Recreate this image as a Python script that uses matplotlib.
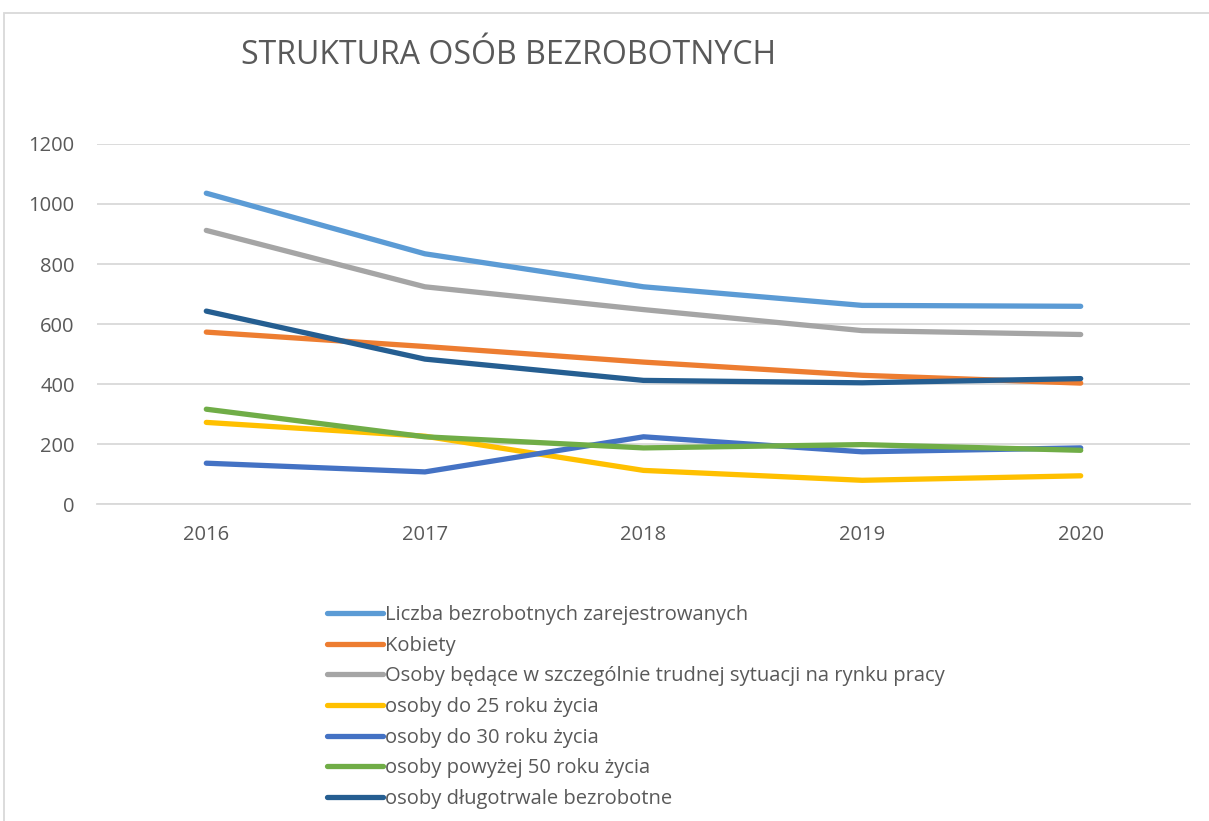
import matplotlib
matplotlib.use("Agg")
import matplotlib.pyplot as plt
from matplotlib.patches import Rectangle

# data
years = ["2016", "2017", "2018", "2019", "2020"]
liczba = [1036, 834, 724, 662, 659]
kobiety = [573, 525, 473, 429, 403]
trudna = [912, 724, 648, 578, 565]
do25 = [272, 226, 112, 79, 94]
do30 = [136, 107, 224, 174, 187]
pow50 = [316, 224, 187, 198, 179]
dlugo = [643, 483, 412, 404, 418]

labels = [
    "Liczba bezrobotnych zarejestrowanych",
    "Kobiety",
    "Osoby będące w szczególnie trudnej sytuacji na rynku pracy",
    "osoby do 25 roku życia",
    "osoby do 30 roku życia",
    "osoby powyżej 50 roku życia",
    "osoby długotrwale bezrobotne",
]
colors = ["#5B9BD5", "#ED7D31", "#A5A5A5", "#FFC000", "#4472C4", "#70AD47", "#255E91"]
series = [liczba, kobiety, trudna, do25, do30, pow50, dlugo]

plt.rcParams["font.family"] = ["Open Sans", "DejaVu Sans"]

fig = plt.figure(figsize=(12.09, 8.21), dpi=100)
ax = fig.add_axes([97 / 1209, 1 - 504 / 821, (1190 - 97) / 1209, 360 / 821])

x = range(len(years))
for vals, lab, col in zip(series, labels, colors):
    ax.plot(x, vals, color=col, lw=3.8, solid_capstyle="round",
            solid_joinstyle="round", label=lab)

ax.set_xlim(-0.5, len(years) - 0.5)
ax.set_ylim(0, 1200)
ax.set_yticks(range(0, 1201, 200))
ax.set_xticks(list(x))
ax.set_xticklabels(years)
ax.grid(axis="y", color="#D9D9D9", lw=1.3)
ax.set_axisbelow(True)
for s in ["top", "right", "left"]:
    ax.spines[s].set_visible(False)
ax.spines["bottom"].set_color("#D9D9D9")
ax.spines["bottom"].set_linewidth(1.3)
ax.tick_params(length=0, labelsize=14.5, colors="#595959")
ax.tick_params(axis="y", pad=16)
ax.tick_params(axis="x", pad=15)

fig.text(509 / 1209, 1 - 55 / 821, "STRUKTURA OSÓB BEZROBOTNYCH", ha="center",
         va="center", fontsize=23, color="#595959")

fig.legend(loc="upper left", bbox_to_anchor=(317 / 1209, 1 - 595 / 821),
           frameon=False, fontsize=14.5, handlelength=2.8, handletextpad=0.1,
           labelspacing=0.53, borderpad=0, labelcolor="#595959")

fig.patches.append(Rectangle((4 / 1209, -0.1), 1.2, 1 - 13 / 821 + 0.1,
                             transform=fig.transFigure, fill=False,
                             edgecolor="#D9D9D9", lw=1.3))

fig.savefig("out.png", dpi=100)
